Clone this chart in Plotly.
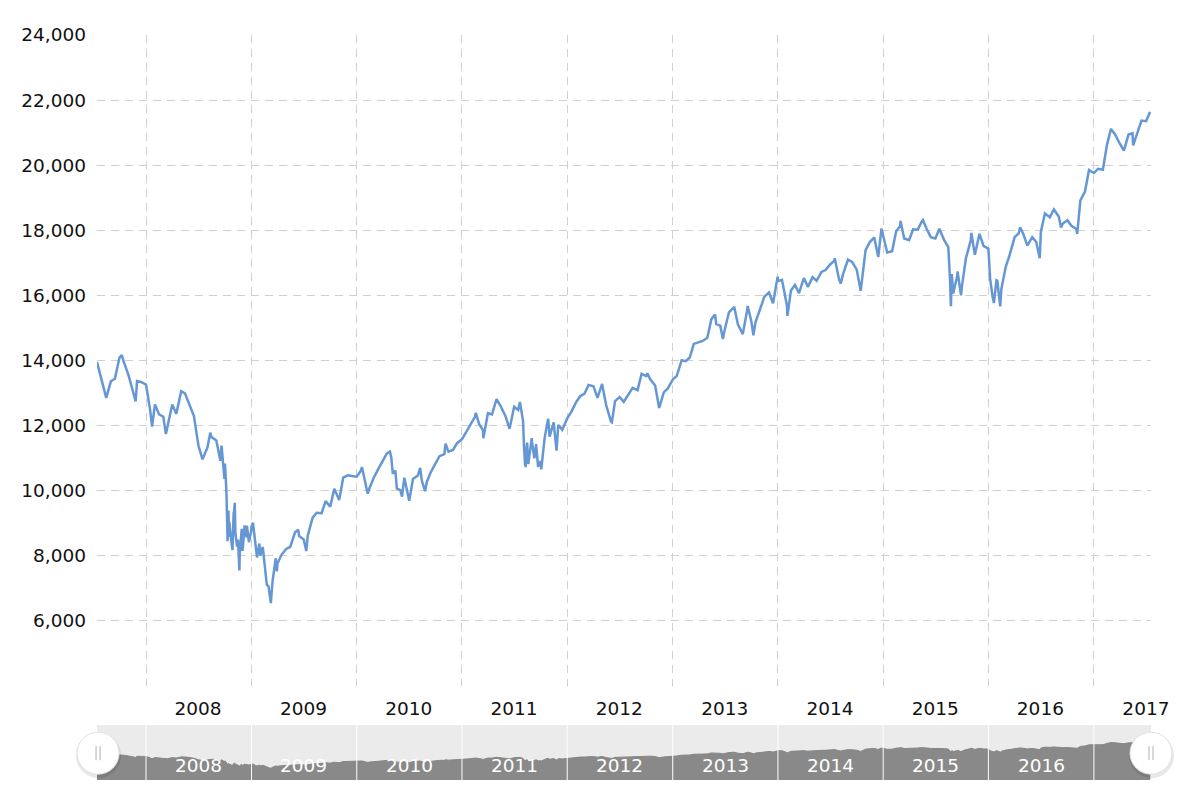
import pandas as pd
import plotly.graph_objects as go

# ---- data: Dow close (1st and 15th of each month) ----
v2007 = [13950, 13360, 12860, 13360, 13440, 14090, 13980, 13560, 13110, 13370, 13340]
v2008 = [13260, 12500, 12650, 12350, 12270, 11950, 12650, 12360, 13000, 12990, 12640, 12300,
         11380, 10962, 11330, 11650, 11540, 10920, 10830, 8580, 9330, 8500, 8150, 8560]
v2009 = [8900, 8200, 8000, 7800, 7060, 7220, 7760, 8030, 8210, 8270, 8720, 8610,
         8500, 8620, 9170, 9320, 9310, 9680, 9510, 10060, 9710, 10400, 10470, 10450]
v2010 = [10430, 10610, 10190, 10100, 10400, 10640, 10930, 11140, 11010, 10620, 10020, 10400,
         9730, 10360, 10470, 10300, 10270, 10570, 10830, 11060, 11120, 11200, 11250, 11460]
v2011 = [11580, 11790, 12040, 12270, 12060, 11850, 12380, 12340, 12810, 12600, 12290, 11900,
         12580, 12480, 12130, 11480, 11490, 11430, 10910, 11640, 11660, 12100, 12020, 11870]
v2012 = [12220, 12420, 12720, 12900, 12980, 13250, 13210, 12850, 13280, 12630, 12120, 12750,
         12880, 12730, 12980, 13160, 13090, 13590, 13520, 13420, 13230, 12540, 13020, 13140]
v2013 = [13410, 13530, 14010, 13980, 14090, 14510, 14570, 14600, 14700, 15270, 15120, 15070,
         14970, 15480, 15630, 15110, 14810, 15490, 15190, 15170, 15620, 15960, 16090, 15760]
v2014 = [16440, 16480, 15700, 16150, 16320, 16070, 16530, 16260, 16560, 16450, 16720, 16780,
         16950, 17060, 16490, 16660, 17100, 17030, 16800, 16140, 17390, 17630, 17780, 17180]
v2015 = [17830, 17320, 17360, 17970, 18130, 17750, 17700, 18030, 18020, 18270, 18040, 17790,
         17750, 18050, 17690, 17480, 16060, 16600, 16270, 17140, 17700, 17250, 17890, 17520]
v2016 = [17430, 15990, 16450, 16200, 16870, 17250, 17790, 17900, 17890, 17530, 17790, 17640,
         17950, 18520, 18400, 18640, 18420, 18210, 18310, 18140, 18040, 18920, 19190, 19850]
v2017 = [19760, 19890, 19860, 20610, 21115, 20950, 20660, 20450, 20940, 20980, 21010, 21370,
         21350, 21640]

# turning points between the regular dates
extra_dates = ["2007-08-16", "2007-10-09", "2007-11-26", "2008-01-22", "2008-03-10", "2008-05-02",
               "2008-08-11", "2008-09-19", "2008-09-29", "2008-10-06", "2008-10-08", "2008-10-10",
               "2008-10-13", "2008-10-16", "2008-10-22", "2008-10-27", "2008-10-31", "2008-11-04",
               "2008-11-06", "2008-11-12", "2008-11-20", "2008-11-21", "2008-11-28", "2008-12-08",
               "2008-12-16", "2008-12-23", "2008-12-31", "2009-01-06", "2009-01-20", "2009-01-28",
               "2009-02-09", "2009-02-23", "2009-03-09", "2009-03-26", "2009-03-30", "2009-06-12",
               "2009-07-10", "2010-01-19", "2010-02-08", "2010-04-26", "2010-05-06", "2010-05-20",
               "2010-06-07", "2010-07-02", "2010-08-09", "2010-08-26", "2010-11-05", "2011-02-18",
               "2011-03-16", "2011-07-21", "2011-08-04", "2011-08-08", "2011-08-09", "2011-08-10",
               "2011-08-11", "2011-08-19", "2011-08-31", "2011-09-09", "2011-09-22", "2011-10-03",
               "2011-10-27", "2011-11-25", "2012-06-04", "2012-10-05", "2013-05-28", "2013-06-24",
               "2013-08-02", "2013-09-18", "2013-10-08", "2013-12-31", "2014-02-03", "2014-07-17",
               "2014-08-07", "2014-12-26", "2015-03-02", "2015-05-19", "2015-08-21", "2015-08-24",
               "2015-08-27", "2015-09-16", "2015-09-28", "2015-11-03", "2016-01-07", "2016-01-20",
               "2016-01-29", "2016-02-11", "2016-04-20", "2016-06-27", "2016-09-09", "2016-11-04",
               "2017-05-17"]
extra_values = [12850, 14165, 12743, 11971, 11740, 13058,
                11782, 11388, 10365, 9955, 9258, 8451,
                9387, 9033, 8519, 8176, 9325, 9625,
                8695, 8282, 7552, 8046, 8829, 8934,
                8924, 8419, 8776, 9015, 7949, 8375,
                8270, 7115, 6547, 7924, 7522, 8800,
                8146, 10725, 9908, 11205, 10520, 10068,
                9816, 9686, 10698, 9985, 11444, 12391,
                11613, 12724, 11384, 10760, 11240, 10720,
                11143, 10818, 11614, 10992, 10734, 10655,
                12208, 11231, 12101, 13610, 15409, 14659,
                15658, 15676, 14776, 16577, 15372, 17138,
                16368, 18053, 18288, 18312, 16460, 15666,
                16655, 16740, 16001, 17918, 16515, 15766,
                16466, 15660, 18096, 17140, 18085, 17888,
                20606]

years = list(range(2008, 2018))
nav_years = list(range(2008, 2017))
y_ticks = list(range(4000, 24001, 2000))

# ---- build series ----
values = v2007 + v2008 + v2009 + v2010 + v2011 + v2012 + v2013 + v2014 + v2015 + v2016 + v2017
dates = pd.date_range("2007-07-15", "2017-07-15", freq="SMS")
df = pd.concat([
    pd.DataFrame({"date": dates, "close": values}),
    pd.DataFrame({"date": pd.to_datetime(extra_dates), "close": extra_values}),
]).sort_values("date")

X_RANGE = ["2007-07-15", "2017-07-18"]
GRID = "#d0d0d0"
FONT = "DejaVu Sans"

fig = go.Figure()
fig.add_trace(go.Scatter(x=df["date"], y=df["close"], mode="lines",
                         line=dict(color="#6497d3", width=2.5), xaxis="x", yaxis="y",
                         hoverinfo="skip"))
# navigator area
fig.add_trace(go.Scatter(x=df["date"], y=df["close"], mode="lines", fill="tozeroy",
                         fillcolor="#898989", line=dict(color="#858585", width=1),
                         xaxis="x2", yaxis="y2", hoverinfo="skip"))

shapes = [dict(type="rect", xref="paper", yref="y2 domain", x0=0, x1=1, y0=0, y1=1,
               fillcolor="#ebebeb", line=dict(width=0), layer="below")]
for yr in years:
    shapes.append(dict(type="line", xref="x2", yref="y2 domain", x0=f"{yr}-01-01",
                       x1=f"{yr}-01-01", y0=0, y1=1, line=dict(color="white", width=1),
                       layer="above"))

# scroll handles
for hx in [0.001, 1.0]:
    common = dict(xref="paper", yref="paper", xsizemode="pixel", ysizemode="pixel",
                  xanchor=hx, yanchor=0.036, layer="above")
    shapes.append(dict(type="circle", x0=-22, x1=23, y0=-25, y1=20,
                       fillcolor="rgba(0,0,0,0.09)", line=dict(width=0), **common))
    shapes.append(dict(type="circle", x0=-21, x1=21, y0=-21, y1=21,
                       fillcolor="white", line=dict(color="#e2e2e2", width=1), **common))
    for dx in (-2, 2):
        shapes.append(dict(type="line", x0=dx, x1=dx, y0=-7, y1=7,
                           line=dict(color="#b0b0b0", width=1), **common))

annotations = [dict(x=f"{yr}-07-02", y=0.0201, xref="x2", yref="paper", text=str(yr),
                    yanchor="middle", showarrow=False,
                    font=dict(color="white", size=18.5, family=FONT))
               for yr in nav_years]

fig.update_layout(
    width=1200, height=802,
    margin=dict(l=97, r=49, t=35, b=22),
    paper_bgcolor="white", plot_bgcolor="white",
    showlegend=False,
    font=dict(family=FONT, size=18.5, color="#111"),
    xaxis=dict(domain=[0, 1], anchor="y", type="date", range=X_RANGE,
               tickvals=[f"{yr}-01-01" for yr in years], ticktext=[str(yr) for yr in years],
               ticklabelshift=52, ticklabelstandoff=10, showgrid=True, gridcolor=GRID,
               griddash="8px,6px", gridwidth=1, zeroline=False, showline=False, ticks=""),
    yaxis=dict(domain=[0.1262, 1], anchor="x", range=[4000, 24000], tickvals=y_ticks,
               ticktext=["" if v == 4000 else f"{v:,}" for v in y_ticks],
               showgrid=True, gridcolor=GRID, griddash="8px,6px", gridwidth=1,
               zeroline=False, showline=False, ticks="", ticklabelstandoff=10),
    xaxis2=dict(domain=[0, 1], anchor="y2", type="date", range=X_RANGE,
                showgrid=False, showticklabels=False, zeroline=False, showline=False),
    yaxis2=dict(domain=[0, 0.0738], anchor="x2", range=[0, 31000], showgrid=False,
                showticklabels=False, zeroline=False, showline=False),
    shapes=shapes,
    annotations=annotations,
)

fig.write_html("out.html", config={"displayModeBar": False},
               post_script="document.body.style.margin='0';")
